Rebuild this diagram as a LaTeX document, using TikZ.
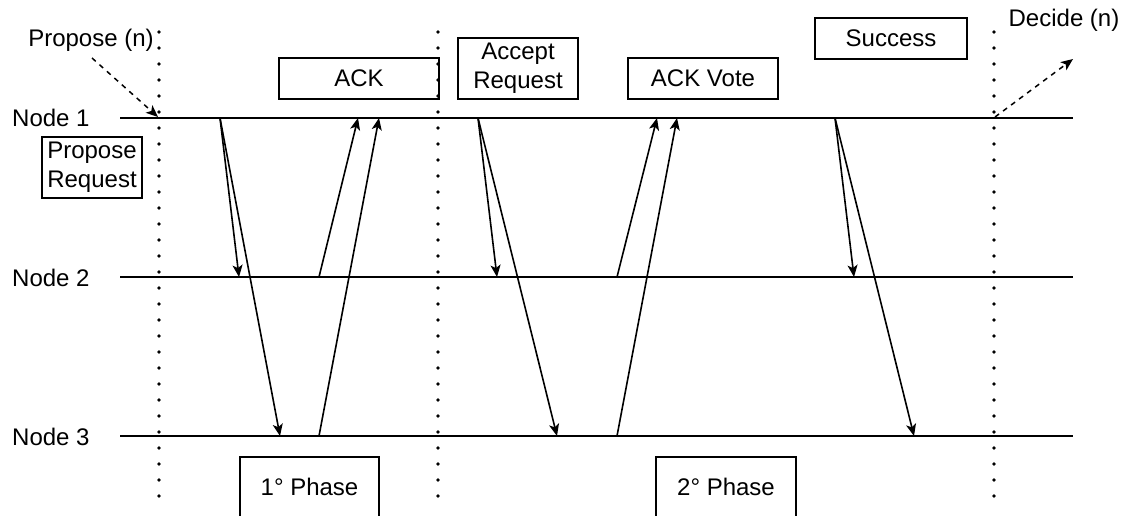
\documentclass[tikz,border=0pt]{standalone}
\usepackage{fontspec}
\setmainfont{Liberation Sans}
\usetikzlibrary{arrows.meta}

\tikzset{
  lbl/.style={font=\fontsize{24}{29}\selectfont, inner sep=0pt},
  msgbox/.style={draw, line width=1.3pt, font=\fontsize{24}{29}\selectfont, inner sep=0pt, align=center},
  timeline/.style={line width=1.8pt},
  phasesep/.style={line width=3.6pt, line cap=round, dash pattern=on 0pt off 16pt},
  msg/.style={line width=1.6pt, -{Stealth[length=12pt, width=10pt, inset=3pt]}},
  event/.style={line width=1.5pt, dash pattern=on 5pt off 5pt, -{Stealth[length=12pt, width=10pt, inset=3pt]}},
}

\begin{document}
\begin{tikzpicture}[x=1pt, y=-1pt]
\useasboundingbox (0,0) rectangle (1129,515);
\clip (0,0) rectangle (1129,515);

% process time lines
\coordinate (t1s) at (120,118);  \coordinate (t1e) at (1073,118);
\coordinate (t2s) at (120,277);  \coordinate (t2e) at (1073,277);
\coordinate (t3s) at (120,436);  \coordinate (t3e) at (1073,436);
\draw[timeline] (t1s) -- (t1e);
\draw[timeline] (t2s) -- (t2e);
\draw[timeline] (t3s) -- (t3e);

\node[lbl, anchor=west] (node1) at (12,118) {Node 1};
\node[lbl, anchor=west] (node2) at (12,278) {Node 2};
\node[lbl, anchor=west] (node3) at (12,437) {Node 3};

% phase separators
\coordinate (s1t) at (159,32);  \coordinate (s1b) at (159,500);
\coordinate (s2t) at (438,32);  \coordinate (s2b) at (438,500);
\coordinate (s3t) at (994,32);  \coordinate (s3b) at (994,500);
\draw[phasesep] (s1t) -- (s1b);
\draw[phasesep] (s2t) -- (s2b);
\draw[phasesep] (s3t) -- (s3b);

% propose / decide events
\node[lbl] (propose) at (91,40) {Propose (n)};
\coordinate (pstart) at (92,58);
\coordinate (pend) at (158,117);
\draw[event] (pstart) -- (pend);

\node[lbl] (decide) at (1064,20) {Decide (n)};
\coordinate (dstart) at (995,117);
\coordinate (dend) at (1073,59);
\draw[event] (dstart) -- (dend);

% message boxes
\node[msgbox, minimum width=100pt, minimum height=61pt, align=left] (preq) at (92,167.5) {Propose\\Request};
\node[msgbox, minimum width=160pt, minimum height=41pt] (ack) at (359,78.5) {ACK};
\node[msgbox, minimum width=120pt, minimum height=61pt] (areq) at (518,68.5) {Accept\\Request};
\node[msgbox, minimum width=150pt, minimum height=41pt] (ackv) at (703,78.5) {ACK Vote};
\node[msgbox, minimum width=152pt, minimum height=41pt] (succ) at (891,38.5) {Success};
\node[msgbox, minimum width=139pt, minimum height=60pt] (ph1) at (309.5,487) {1° Phase};
\node[msgbox, minimum width=140pt, minimum height=60pt] (ph2) at (726,487) {2° Phase};

% phase 1 messages
\coordinate (a0) at (220,118);
\coordinate (a1) at (239,277);
\coordinate (a2) at (280,436);
\coordinate (a3) at (319,277);
\coordinate (a4) at (358,118);
\coordinate (a5) at (319,436);
\coordinate (a6) at (379,118);
\draw[msg] (a0) -- (a1);
\draw[msg] (a0) -- (a2);
\draw[msg] (a3) -- (a4);
\draw[msg] (a5) -- (a6);

% phase 2 messages
\coordinate (b0) at (478,118);
\coordinate (b1) at (497,277);
\coordinate (b2) at (557,436);
\coordinate (b3) at (617,277);
\coordinate (b4) at (657,118);
\coordinate (b5) at (617,436);
\coordinate (b6) at (677,118);
\draw[msg] (b0) -- (b1);
\draw[msg] (b0) -- (b2);
\draw[msg] (b3) -- (b4);
\draw[msg] (b5) -- (b6);

% success messages
\coordinate (c0) at (835,118);
\coordinate (c1) at (854,277);
\coordinate (c2) at (914,436);
\draw[msg] (c0) -- (c1);
\draw[msg] (c0) -- (c2);
\end{tikzpicture}
\end{document}
